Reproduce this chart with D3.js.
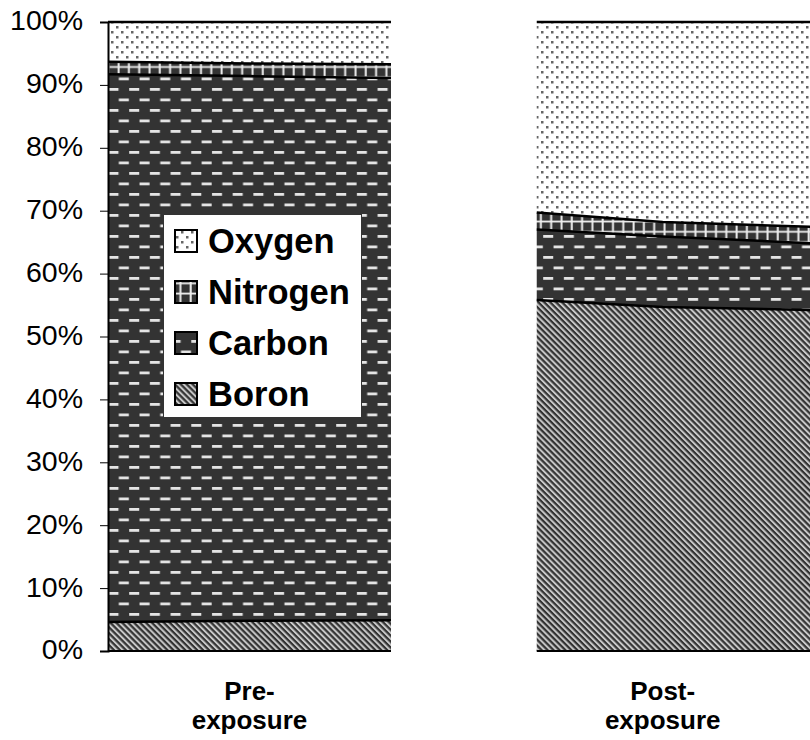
<!DOCTYPE html>
<html>
<head>
<meta charset="utf-8">
<script src="https://cdn.jsdelivr.net/npm/d3@7"></script>
<style>
  body { margin: 0; background: #fff; }
  text { font-family: "Liberation Sans", Arial, sans-serif; }
</style>
</head>
<body>
<div id="chart"></div>
<script>
// stacking order, bottom to top
const elements = ["Boron", "Carbon", "Nitrogen", "Oxygen"];
const legendOrder = ["Oxygen", "Nitrogen", "Carbon", "Boron"];
const yTicks = [0, 10, 20, 30, 40, 50, 60, 70, 80, 90, 100];

// pre-exposure samples (percent)
const preSteps = [0, 1, 2];
const preBoron = [4.6, 4.8, 4.9];
const preCarbon = [87.1, 86.6, 86.2];
const preNitrogen = [2.0, 2.0, 2.2];
const preOxygen = [6.3, 6.6, 6.7];

// post-exposure samples (percent)
const postSteps = [3.03, 3.92, 5];
const postBoron = [55.8, 54.7, 54.2];
const postCarbon = [11.2, 11.2, 10.6];
const postNitrogen = [2.7, 2.3, 2.6];
const postOxygen = [30.3, 31.8, 32.6];

const panelLabels = [["Pre-", "exposure"], ["Post-", "exposure"]];

const W = 810, H = 740;
const plotLeft = 108, plotTop = 22, plotBottom = 651;

function rows(steps, b, c, n, o) {
  return steps.map((s, i) => ({ step: s, Boron: b[i], Carbon: c[i], Nitrogen: n[i], Oxygen: o[i] }));
}
const panels = [
  { label: panelLabels[0], data: rows(preSteps, preBoron, preCarbon, preNitrogen, preOxygen) },
  { label: panelLabels[1], data: rows(postSteps, postBoron, postCarbon, postNitrogen, postOxygen) }
];

const x = d3.scaleLinear().domain([0, 5]).range([plotLeft, 815.5]);
const y = d3.scaleLinear().domain([0, 1]).range([plotBottom, plotTop]);

const svg = d3.select("#chart").append("svg")
  .attr("width", W)
  .attr("height", H);

// fill patterns
const defs = svg.append("defs");
const dark = "#333";

const pO = defs.append("pattern").attr("id", "pat-Oxygen")
  .attr("patternUnits", "userSpaceOnUse").attr("width", 10).attr("height", 10);
pO.append("rect").attr("width", 10).attr("height", 10).attr("fill", "#fff");
pO.append("rect").attr("x", 1).attr("y", 1).attr("width", 2.5).attr("height", 2.5).attr("fill", "#666");
pO.append("rect").attr("x", 6).attr("y", 6).attr("width", 2.5).attr("height", 2.5).attr("fill", "#666");

const pN = defs.append("pattern").attr("id", "pat-Nitrogen")
  .attr("patternUnits", "userSpaceOnUse").attr("width", 10.3).attr("height", 10.3);
pN.append("rect").attr("width", 10.3).attr("height", 10.3).attr("fill", dark);
pN.append("rect").attr("x", 4.3).attr("width", 2).attr("height", 10.3).attr("fill", "#eee");
pN.append("rect").attr("y", 4.3).attr("width", 10.3).attr("height", 1.8).attr("fill", "#eee");

const pC = defs.append("pattern").attr("id", "pat-Carbon")
  .attr("patternUnits", "userSpaceOnUse").attr("width", 20.7).attr("height", 21);
pC.append("rect").attr("width", 20.7).attr("height", 21).attr("fill", dark);
pC.append("rect").attr("x", 5).attr("y", 4).attr("width", 10).attr("height", 2.8).attr("fill", "#e4e4e4");
pC.append("rect").attr("x", 15.35).attr("y", 14.5).attr("width", 5.35).attr("height", 2.8).attr("fill", "#e4e4e4");
pC.append("rect").attr("x", 0).attr("y", 14.5).attr("width", 4.65).attr("height", 2.8).attr("fill", "#e4e4e4");

const pB = defs.append("pattern").attr("id", "pat-Boron")
  .attr("patternUnits", "userSpaceOnUse").attr("width", 4.2).attr("height", 6)
  .attr("patternTransform", "rotate(-45)");
pB.append("rect").attr("width", 4.2).attr("height", 6).attr("fill", dark);
pB.append("rect").attr("width", 2).attr("height", 6).attr("fill", "#c8c8c8");

// stacked areas per panel
const stack = d3.stack().keys(elements).offset(d3.stackOffsetExpand);
const area = d3.area()
  .x(d => x(d.data.step))
  .y0(d => y(d[0]))
  .y1(d => y(d[1]));
const topLine = d3.line()
  .x(d => x(d.data.step))
  .y(d => y(d[1]));

panels.forEach(p => {
  const layers = stack(p.data);
  const g = svg.append("g");
  g.selectAll("path.area")
    .data(layers)
    .enter()
    .append("path")
    .attr("class", "area")
    .attr("fill", d => "url(#pat-" + d.key + ")")
    .attr("d", area);
  g.selectAll("path.edge")
    .data(layers)
    .enter()
    .append("path")
    .attr("class", "edge")
    .attr("fill", "none")
    .attr("stroke", "#000")
    .attr("stroke-width", 2.5)
    .attr("d", topLine);
  // baseline under the panel
  g.append("line")
    .attr("x1", x(p.data[0].step)).attr("x2", x(p.data[p.data.length - 1].step))
    .attr("y1", y(0)).attr("y2", y(0))
    .attr("stroke", "#000").attr("stroke-width", 2);

  // category label under the middle sample
  const mid = p.data[Math.floor(p.data.length / 2)].step;
  const lab = svg.append("text")
    .attr("x", x(mid))
    .attr("y", 700)
    .attr("text-anchor", "middle")
    .attr("font-size", 26)
    .attr("font-weight", "bold");
  p.label.forEach((t, i) => {
    lab.append("tspan").attr("x", x(mid)).attr("dy", i === 0 ? 0 : 29).text(t);
  });
});

// y axis
const yAxis = d3.axisLeft(d3.scaleLinear().domain([0, 100]).range([plotBottom, plotTop]))
  .tickValues(yTicks)
  .tickSize(8)
  .tickPadding(17)
  .tickFormat(d => d + "%");
const ax = svg.append("g")
  .attr("transform", "translate(" + plotLeft + ",0)")
  .call(yAxis);
ax.select(".domain").attr("stroke", "#000").attr("stroke-width", 2);
ax.selectAll(".tick line").attr("stroke", "#000");
ax.selectAll(".tick text")
  .attr("font-size", 28.5)
  .attr("fill", "#000")
  .attr("font-family", "'Liberation Sans', Arial, sans-serif")
  .attr("dy", "0.28em");

// legend
const lg = svg.append("g");
lg.append("rect")
  .attr("x", 163.5).attr("y", 214.5)
  .attr("width", 198).attr("height", 203)
  .attr("fill", "#fff").attr("stroke", "#333").attr("stroke-width", 1);
legendOrder.forEach((k, i) => {
  const by = 253 + i * 51;
  lg.append("rect")
    .attr("x", 175).attr("y", by - 23)
    .attr("width", 22).attr("height", 22)
    .attr("fill", "url(#pat-" + k + ")")
    .attr("stroke", "#000").attr("stroke-width", 2);
  lg.append("text")
    .attr("x", 208).attr("y", by)
    .attr("font-size", 34.5)
    .attr("font-weight", "bold")
    .text(k);
});
</script>
</body>
</html>
